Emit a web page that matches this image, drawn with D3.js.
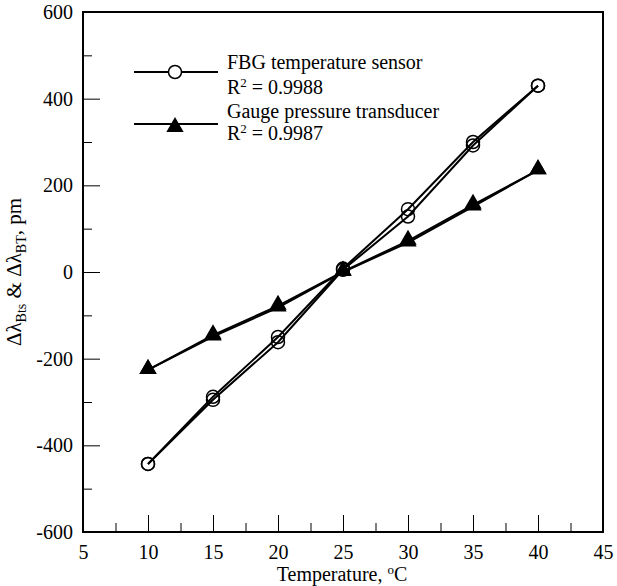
<!DOCTYPE html>
<html><head><meta charset="utf-8">
<script src="https://cdn.jsdelivr.net/npm/d3@7"></script>
<style>body{margin:0;background:#fff}svg{display:block}text{font-family:"Liberation Serif","Times New Roman",serif;fill:#000}</style>
</head><body><svg id="c" width="617" height="586"></svg>
<script>
const temps = [10, 15, 20, 25, 30, 35, 40];
const fbgUp   = [-443, -288, -150, 8, 145, 300, 430];
const fbgDown = [-443, -295, -162, 5, 128, 292, 430];
const gaugeUp   = [-226, -146, -78, 1, 72, 155, 235];
const gaugeDown = [-226, -149, -82, 0, 68, 151, 235];
const xMajor = [5, 10, 15, 20, 25, 30, 35, 40, 45];
const xMinor = [7.5, 12.5, 17.5, 22.5, 27.5, 32.5, 37.5, 42.5];
const yMajor = [-600, -400, -200, 0, 200, 400, 600];
const yMinor = [-500, -300, -100, 100, 300, 500];
const legendLabels = ["FBG temperature sensor", "Gauge pressure transducer"];
const legendR2 = ["0.9988", "0.9987"];

const svg = d3.select("#c");
const L = 83, T = 12, R = 603, B = 532;
const x = d3.scaleLinear().domain([5, 45]).range([L, R]);
const y = d3.scaleLinear().domain([-600, 600]).range([B, T]);

const fs = 20;
const fmt = d => String(d);
// axes
svg.append("g").attr("transform", `translate(0,${B})`)
  .call(d3.axisBottom(x).tickValues(xMajor).tickSize(-17).tickPadding(13).tickFormat(fmt));
svg.append("g").attr("transform", `translate(0,${B})`)
  .call(d3.axisBottom(x).tickValues(xMinor).tickSize(-9).tickFormat(""));
const gy = svg.append("g").attr("transform", `translate(${L},0)`)
  .call(d3.axisLeft(y).tickValues(yMajor).tickSize(-17).tickPadding(10).tickFormat(fmt));
svg.append("g").attr("transform", `translate(${L},0)`)
  .call(d3.axisLeft(y).tickValues(yMinor).tickSize(-9).tickFormat(""));
svg.selectAll(".domain").remove();
svg.selectAll(".tick line").attr("stroke", "#000").attr("stroke-width", 1);
svg.selectAll(".tick text").style("font-size", fs + "px").attr("font-family", null).style("font-family", '"Liberation Serif",serif').attr("fill", "#000");
gy.selectAll(".tick text").attr("x", -10);

// frame
svg.append("rect").attr("x", L).attr("y", T).attr("width", R - L).attr("height", B - T)
  .attr("fill", "none").attr("stroke", "#000").attr("stroke-width", 2);

// lines
const line = d3.line().x((d, i) => x(temps[i])).y(d => y(d));
[fbgUp, fbgDown, gaugeUp, gaugeDown].forEach(s => {
  svg.append("path").datum(s).attr("d", line).attr("fill", "none").attr("stroke", "#000").attr("stroke-width", 2);
});

const tri = d3.symbol().type(d3.symbolTriangle).size(130);
[fbgUp, fbgDown].forEach(s => {
  svg.append("g").selectAll("circle").data(s).join("circle")
    .attr("cx", (d, i) => x(temps[i])).attr("cy", d => y(d)).attr("r", 6.5)
    .attr("fill", "none").attr("stroke", "#000").attr("stroke-width", 1.5);
});
[gaugeUp, gaugeDown].forEach(s => {
  svg.append("g").selectAll("path").data(s).join("path")
    .attr("d", tri).attr("transform", (d, i) => `translate(${x(temps[i])},${y(d) - 1})`)
    .attr("fill", "#000");
});

// legend
const lg = svg.append("g");
const rows = [{ly: 72, ty: 69, ry: 94}, {ly: 124, ty: 118, ry: 140}];
rows.forEach((r, k) => {
  lg.append("line").attr("x1", 134).attr("x2", 218).attr("y1", r.ly).attr("y2", r.ly).attr("stroke", "#000").attr("stroke-width", 2);
  if (k === 0) lg.append("circle").attr("cx", 175).attr("cy", r.ly).attr("r", 6.5).attr("fill", "#fff").attr("stroke", "#000").attr("stroke-width", 1.5);
  else lg.append("path").attr("d", tri).attr("transform", `translate(175,${r.ly + 3})`).attr("fill", "#000");
  lg.append("text").attr("x", 227).attr("y", r.ty).style("font-size", fs + "px").text(legendLabels[k]);
  const t = lg.append("text").attr("x", 227).attr("y", r.ry).style("font-size", fs + "px");
  t.append("tspan").text("R");
  t.append("tspan").attr("dy", -7).style("font-size", "13px").text("2");
  t.append("tspan").attr("dy", 7).text(" = " + legendR2[k]);
});

// axis titles
const xt = svg.append("text").attr("x", 342).attr("y", 581).attr("text-anchor", "middle").style("font-size", fs + "px");
xt.append("tspan").text("Temperature, ");
xt.append("tspan").attr("dy", -7).style("font-size", "13px").text("o");
xt.append("tspan").attr("dy", 7).text("C");

const yt = svg.append("text").attr("transform", `translate(21,272) rotate(-90)`).attr("text-anchor", "middle").style("font-size", "21px");
yt.append("tspan").text("Δλ");
yt.append("tspan").attr("dy", 5).style("font-size", "14px").text("Bts");
yt.append("tspan").attr("dy", -5).text(" & Δλ");
yt.append("tspan").attr("dy", 5).style("font-size", "14px").text("BT");
yt.append("tspan").attr("dy", -5).text(", pm");
</script></body></html>
